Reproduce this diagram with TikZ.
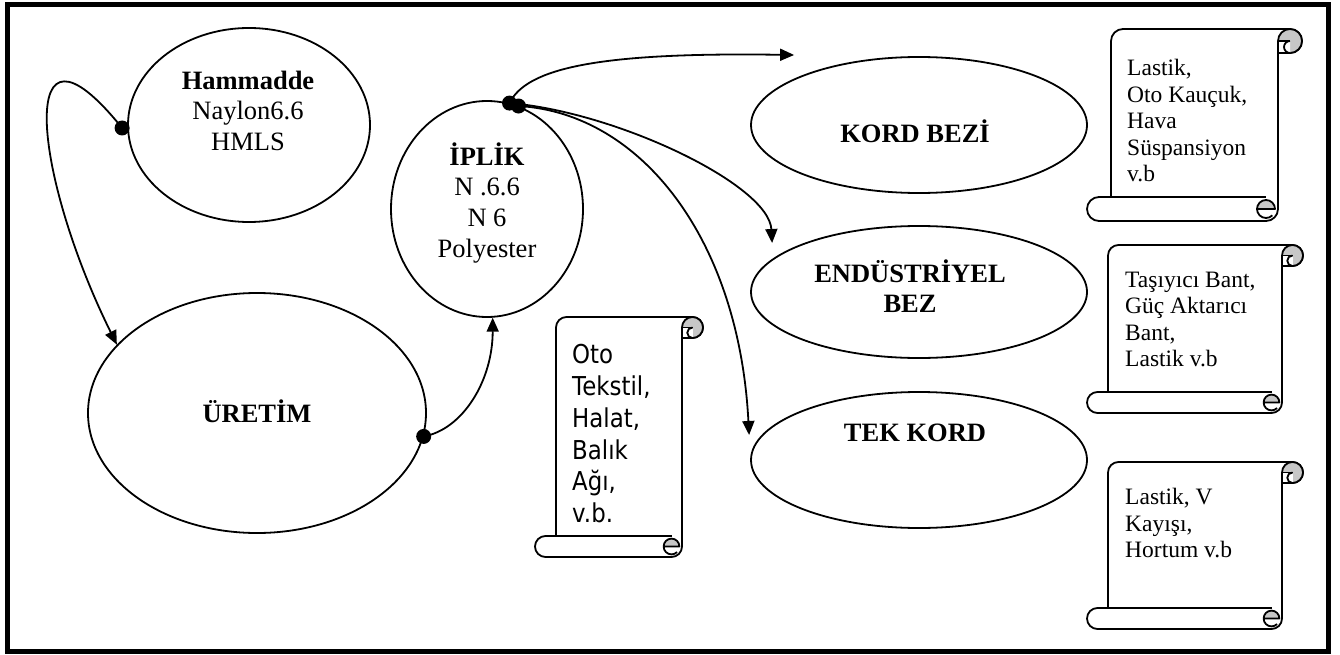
\documentclass[tikz,border=0pt]{standalone}
\usepackage{fontspec}
\setmainfont{Liberation Serif}
\newfontfamily\scrollsans[FakeStretch=0.88]{DejaVu Sans}
\usetikzlibrary{shapes.geometric,arrows.meta,calc}

\tikzset{
  bubble/.style={ellipse, draw, line width=1.8pt, inner sep=0pt, fill=white},
  link/.style={line width=1.8pt, -{Triangle[length=14pt,width=12pt]}},
  bigtext/.style={font=\fontsize{26.5}{30.6}\selectfont, inner sep=0pt, align=center},
  boldtext/.style={font=\bfseries\fontsize{26.5}{30.6}\selectfont, inner sep=0pt, align=center},
  notetext/.style={font=\fontsize{23.5}{26.4}\selectfont, inner sep=0pt, align=left},
  sanstext/.style={font=\scrollsans\fontsize{26}{31.7}\selectfont, inner sep=0pt, align=left},
  scrollline/.style={line width=1.8pt, line join=round},
  curlfill/.style={fill=black!22},
}

% scroll banner: #1 left, #2 top, #3 right, #4 bottom, #5 roll diameter
\newcommand\drawscroll[5]{%
  \pgfmathsetmacro\sxa{#1+#5}%
  \pgfmathsetmacro\sxc{#3-0.5*#5}%
  \pgfmathsetmacro\sxd{#3-#5}%
  \pgfmathsetmacro\sxe{#3-1.5*#5}%
  \pgfmathsetmacro\sxf{#1+0.5*#5}%
  \pgfmathsetmacro\sya{#2+0.5*#5}%
  \pgfmathsetmacro\syb{#2+#5}%
  \pgfmathsetmacro\syc{#4-0.5*#5}%
  \pgfmathsetmacro\syd{#4-#5}%
  \pgfmathsetmacro\srh{0.5*#5}%
  \pgfmathsetmacro\srq{0.25*#5}%
  \pgfmathsetmacro\sre{0.375*#5}%
  % sheet with bottom roll
  \draw[scrollline, fill=white]
    (\sxa,\syd) -- (\sxa,\sya) arc[start angle=180, end angle=270, radius=\srh]
    -- (\sxc,#2) arc[start angle=270, end angle=450, radius=\srh]
    -- (\sxd,\syb) -- (\sxd,\syc) arc[start angle=0, end angle=90, radius=\srh]
    -- (\sxf,#4) arc[start angle=90, end angle=270, radius=\srh] -- cycle;
  \draw[scrollline] (\sxa,\syd) -- (\sxe,\syd);
  % top curl
  \draw[scrollline, curlfill] (\sxc,\sya) circle[radius=\srh];
  \fill[white] (\sxd,\sya) rectangle (\sxc,\syb);
  \draw[scrollline, fill=white] (\sxc,\sya) arc[start angle=270, end angle=90, radius=\srq];
  \draw[scrollline] (\sxd,\sya) -- (\sxc,\sya);
  \draw[scrollline] (\sxd,\sya) -- (\sxd,\syb) -- (\sxc,\syb);
  % bottom curl
  \fill[curlfill] (\sxe,\syc) -- ++(-\sre,0) arc[start angle=180, end angle=360, radius=\sre] -- cycle;
  \draw[scrollline] (\sxe,\syc) ++(45:\sre) arc[start angle=45, end angle=360, radius=\sre] -- ++(-2*\sre,0);
}

\begin{document}
\begin{tikzpicture}[x=1pt,y=-1pt]
\useasboundingbox (0,0) rectangle (1340,655);
\draw[line width=5pt] (7.5,4.5) rectangle (1328,651);

% process bubbles
\node[bubble, minimum width=242pt, minimum height=194pt] (ham) at (249,125) {};
\node[bubble, minimum width=192pt, minimum height=216pt] (ipl) at (487,209) {};
\node[bubble, minimum width=338pt, minimum height=240pt] (ure) at (257,413) {};
\node[bubble, minimum width=336pt, minimum height=136pt] (kord) at (919,125) {};
\node[bubble, minimum width=336pt, minimum height=132pt] (endu) at (919,292) {};
\node[bubble, minimum width=336pt, minimum height=136pt] (tek) at (919,460) {};

\node[bigtext, anchor=south] (hamtxt) at (248,151) {\textbf{Hammadde}\\Naylon6.6\\HMLS};
\node[bigtext, anchor=south] (ipltxt) at (487,263) {\textbf{İPLİK}\\N .6.6\\N 6\\Polyester};
\node[boldtext, anchor=base] (uretxt) at (257,422) {ÜRETİM};
\node[boldtext, anchor=base] (kordtxt) at (915,143) {KORD BEZİ};
\node[boldtext, anchor=south] (endutxt) at (910,313) {ENDÜSTRİYEL\\BEZ};
\node[boldtext, anchor=base] (tektxt) at (915,441) {TEK KORD};

% usage notes
\drawscroll{535}{317}{703}{557}{21}
\node[sanstext, anchor=south west] (note1) at (572,523) {Oto\\Tekstil,\\Halat,\\Balık\\Ağı,\\v.b.};
\drawscroll{1087}{29}{1302}{221}{24}
\node[notetext, anchor=south west] (note2) at (1127,182) {Lastik,\\Oto Kauçuk,\\Hava\\Süspansiyon\\v.b};
\drawscroll{1087}{245}{1303}{413}{21}
\node[notetext, anchor=south west] (note3) at (1125,367) {Taşıyıcı Bant,\\Güç Aktarıcı\\Bant,\\Lastik v.b};
\drawscroll{1087}{462}{1303}{629}{21}
\node[notetext, anchor=south west] (note4) at (1125,558) {Lastik, V\\Kayışı,\\Hortum v.b};

% connectors
\coordinate (hamdot) at ($(ham.west)+(-5,3)$);
\coordinate (uredot) at (ure.-8);
\coordinate (ipldotA) at (ipl.78);
\coordinate (ipldotB) at (ipl.73);
\coordinate (kordin) at ($(kord.west)+(44,-70)$);
\coordinate (enduin) at ($(endu.west)+(22,-49)$);
\coordinate (tekin) at ($(tek.west)+(-1,-25)$);

\draw[link] (hamdot) .. controls +(-107,-133) and +(-85,-172) .. (ure.154);
\draw[link] (uredot) .. controls +(39,-7) and +(0,63) .. (ipl.-87);
\draw[link] (ipldotA) .. controls +(17,-35) and +(-195,-3) .. (kordin);
\draw[link] (ipldotA) .. controls +(108,9) and +(-3,-58) .. (enduin);
\draw[link] (ipldotB) .. controls +(123,7) and +(-10,-195) .. (tekin);

\fill (hamdot) circle[radius=7.5];
\fill (uredot) circle[radius=7.5];
\fill (ipldotA) circle[radius=7.5];
\fill (ipldotB) circle[radius=7.5];
\end{tikzpicture}
\end{document}
